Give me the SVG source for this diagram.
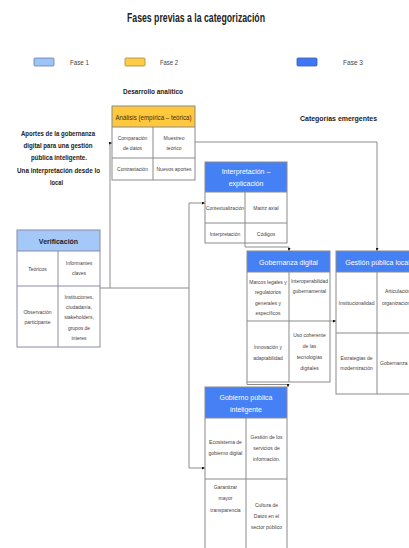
<svg xmlns="http://www.w3.org/2000/svg" width="409" height="548" viewBox="0 0 409 548">
<style>
.bg{fill:#fff}
.box{fill:none;stroke:#8a8a8a;stroke-width:1}
.boxv{fill:none;stroke:#8a8aa8;stroke-width:1}
.div{stroke:#8a8a8a;stroke-width:1}
.hb{fill:#4680f5}
.hl{fill:#a4c8f8}
.hy{fill:#ffc83d}
.h{font-family:"Liberation Sans",Arial,sans-serif;font-weight:bold;fill:#222;text-anchor:middle}
.c{font-family:"Liberation Sans",Arial,sans-serif;font-size:5px;fill:#4a4040;text-anchor:middle}
.w{font-family:"Liberation Sans",Arial,sans-serif;font-size:7px;fill:#fff;text-anchor:middle}
.lg{font-family:"Liberation Sans",Arial,sans-serif;font-size:7px;fill:#444}
.cn{fill:none;stroke:#8c8c8c;stroke-width:1}
</style>
<defs>
<marker id="arr" viewBox="0 0 6 6" refX="6" refY="3" markerWidth="3" markerHeight="3" orient="auto"><path d="M0,0L6,3L0,6z" fill="#111"/></marker>
</defs>
<rect class="bg" x="0" y="0" width="409" height="548"/>

<g id="title">
<text class="h" x="196" y="22" font-size="12" textLength="138" lengthAdjust="spacingAndGlyphs">Fases previas a la categorización</text>
</g>

<g id="legend">
<rect x="34" y="58" width="20" height="8" rx="1" fill="#9dc3f7" stroke="#6a7fa8" stroke-width="0.8"/>
<text class="lg" x="70" y="65" textLength="19" lengthAdjust="spacingAndGlyphs">Fase 1</text>
<rect x="125" y="58" width="20" height="8" rx="1" fill="#ffcc44" stroke="#a08a40" stroke-width="0.8"/>
<text class="lg" x="160" y="65" textLength="18" lengthAdjust="spacingAndGlyphs">Fase 2</text>
<rect x="297" y="58" width="20" height="8" rx="1" fill="#3f78f5" stroke="#3a5ab0" stroke-width="0.8"/>
<text class="lg" x="343" y="65" textLength="20" lengthAdjust="spacingAndGlyphs">Fase 3</text>
</g>

<g id="labels">
<text class="h" x="153" y="94" font-size="7.5" textLength="60" lengthAdjust="spacingAndGlyphs">Desarrollo analítico</text>
<text class="h" x="338.5" y="121" font-size="7.5" textLength="77" lengthAdjust="spacingAndGlyphs">Categorías emergentes</text>
<text class="h" x="58" y="136" font-size="7" textLength="74" lengthAdjust="spacingAndGlyphs">Aportes de la gobernanza</text>
<text class="h" x="58" y="148" font-size="7" textLength="69" lengthAdjust="spacingAndGlyphs">digital para una gestión</text>
<text class="h" x="59" y="160" font-size="7" textLength="56" lengthAdjust="spacingAndGlyphs">pública inteligente.</text>
<text class="h" x="58.5" y="173" font-size="7" textLength="83" lengthAdjust="spacingAndGlyphs">Una interpretación desde lo</text>
<text class="h" x="56.5" y="185" font-size="7" textLength="13" lengthAdjust="spacingAndGlyphs">local</text>
</g>

<g id="connectors">
<path class="cn" d="M100,288 H189"/>
<path class="cn" d="M110,288 V143 H112" marker-end="url(#arr)"/>
<path class="cn" d="M189,288 V203 H205" marker-end="url(#arr)"/>
<path class="cn" d="M189,288 V468 H205" marker-end="url(#arr)"/>
<path class="cn" d="M195,142 H377 V251" marker-end="url(#arr)"/>
<path class="cn" d="M245,243 V247 H289 V251" marker-end="url(#arr)"/>
<path class="cn" d="M330,321 H336" marker-end="url(#arr)"/>
<path class="cn" d="M247,382 V384.5 H288 V387" marker-end="url(#arr)"/>
</g>

<g id="analisis">
<rect class="hy" x="112" y="106" width="83" height="21"/>
<rect class="box" x="112" y="106" width="83" height="74"/>
<line class="div" x1="112" y1="127" x2="195" y2="127"/>
<line class="div" x1="112" y1="158" x2="195" y2="158"/>
<line class="div" x1="153" y1="127" x2="153" y2="180"/>
<text x="153.5" y="119.5" font-family="Liberation Sans,Arial,sans-serif" font-size="6.5" fill="#3a2a10" text-anchor="middle" textLength="76" lengthAdjust="spacingAndGlyphs">Análisis (empírica – teórica)</text>
<text class="c" x="132.5" y="140">Comparación</text>
<text class="c" x="132.5" y="150">de datos</text>
<text class="c" x="174" y="140">Muestreo</text>
<text class="c" x="174" y="150">teórico</text>
<text class="c" x="132.5" y="171">Contrastación</text>
<text class="c" x="174" y="171">Nuevos aportes</text>
</g>

<g id="interpretacion">
<rect class="hb" x="205" y="162" width="82" height="30"/>
<rect class="box" x="205" y="162" width="82" height="81"/>
<line class="div" x1="205" y1="192" x2="287" y2="192"/>
<line class="div" x1="205" y1="223" x2="287" y2="223"/>
<line class="div" x1="245" y1="192" x2="245" y2="243"/>
<text class="w" x="246" y="174">Interpretación –</text>
<text class="w" x="246" y="185.5">explicación</text>
<text class="c" x="225" y="210" textLength="38" lengthAdjust="spacingAndGlyphs">Contextualización</text>
<text class="c" x="266" y="210" font-size="6">Matriz axial</text>
<text class="c" x="225" y="235.5">Interpretación</text>
<text class="c" x="266" y="235.5">Códigos</text>
</g>

<g id="verificacion">
<rect class="hl" x="17" y="230" width="83" height="21"/>
<rect class="boxv" x="17" y="230" width="83" height="117"/>
<line class="div" x1="17" y1="251" x2="100" y2="251" style="stroke:#8a8aa8"/>
<line class="div" x1="17" y1="286" x2="100" y2="286" style="stroke:#8a8aa8"/>
<line class="div" x1="58" y1="251" x2="58" y2="347" style="stroke:#8a8aa8"/>
<text class="h" x="58.5" y="243.5" font-size="7" fill="#1a2a50">Verificación</text>
<text class="c" x="37.5" y="270.5" font-size="7">Teóricos</text>
<text class="c" x="79" y="265">Informantes</text>
<text class="c" x="79" y="275">claves</text>
<text class="c" x="37.5" y="314">Observación</text>
<text class="c" x="37.5" y="324">participante</text>
<text class="c" x="79" y="299">Instituciones,</text>
<text class="c" x="79" y="309">ciudadanía,</text>
<text class="c" x="79" y="319">stakeholders,</text>
<text class="c" x="79" y="330">grupos de</text>
<text class="c" x="79" y="340">interes</text>
</g>

<g id="gobernanza">
<rect class="hb" x="247" y="251" width="83" height="21"/>
<rect class="box" x="247" y="251" width="83" height="131"/>
<line class="div" x1="247" y1="272" x2="330" y2="272"/>
<line class="div" x1="247" y1="321" x2="330" y2="321"/>
<line class="div" x1="289" y1="272" x2="289" y2="382"/>
<text class="w" x="288.5" y="264.5">Gobernanza digital</text>
<text class="c" x="268" y="284">Marcos legales y</text>
<text class="c" x="268" y="294">regulatorios</text>
<text class="c" x="268" y="305">generales y</text>
<text class="c" x="268" y="315">específicos</text>
<text class="c" x="309.5" y="283">Interoperabilidad</text>
<text class="c" x="309.5" y="293">gubernamental</text>
<text class="c" x="268" y="349">Innovación y</text>
<text class="c" x="268" y="360">adaptabilidad</text>
<text class="c" x="309.5" y="337">Uso coherente</text>
<text class="c" x="309.5" y="348">de las</text>
<text class="c" x="309.5" y="359">tecnologías</text>
<text class="c" x="309.5" y="370">digitales</text>
</g>

<g id="gestion">
<rect class="hb" x="336" y="251" width="83" height="21"/>
<rect class="box" x="336" y="251" width="83" height="143"/>
<line class="div" x1="336" y1="272" x2="419" y2="272"/>
<line class="div" x1="336" y1="333" x2="419" y2="333"/>
<line class="div" x1="377" y1="272" x2="377" y2="394"/>
<text class="w" x="377.5" y="264.5">Gestión pública local</text>
<text class="c" x="356.5" y="304.5">Institucionalidad</text>
<text class="c" x="398" y="292.5">Articulación</text>
<text class="c" x="398" y="304.5">organizacional</text>
<text class="c" x="356.5" y="359.5">Estrategias de</text>
<text class="c" x="356.5" y="370">modernización</text>
<text class="c" x="380" y="365" style="text-anchor:start">Gobernanza participativa</text>
</g>

<g id="gobierno">
<rect class="hb" x="205" y="387" width="82" height="31"/>
<rect class="box" x="205" y="387" width="82" height="175"/>
<line class="div" x1="205" y1="418" x2="287" y2="418"/>
<line class="div" x1="205" y1="479" x2="287" y2="479"/>
<line class="div" x1="246" y1="418" x2="246" y2="562"/>
<text class="w" x="246" y="399.5">Gobierno pública</text>
<text class="w" x="246" y="411.5">inteligente</text>
<text class="c" x="225.5" y="444">Ecosistema de</text>
<text class="c" x="225.5" y="455">gobierno digital</text>
<text class="c" x="266.5" y="439">Gestión de los</text>
<text class="c" x="266.5" y="450">servicios de</text>
<text class="c" x="266.5" y="461">información.</text>
<text class="c" x="225.5" y="489">Garantizar</text>
<text class="c" x="225.5" y="500">mayor</text>
<text class="c" x="225.5" y="512">transparencia</text>
<text class="c" x="266.5" y="507">Cultura de</text>
<text class="c" x="266.5" y="518">Datos en el</text>
<text class="c" x="266.5" y="529">sector público</text>
</g>
</svg>
